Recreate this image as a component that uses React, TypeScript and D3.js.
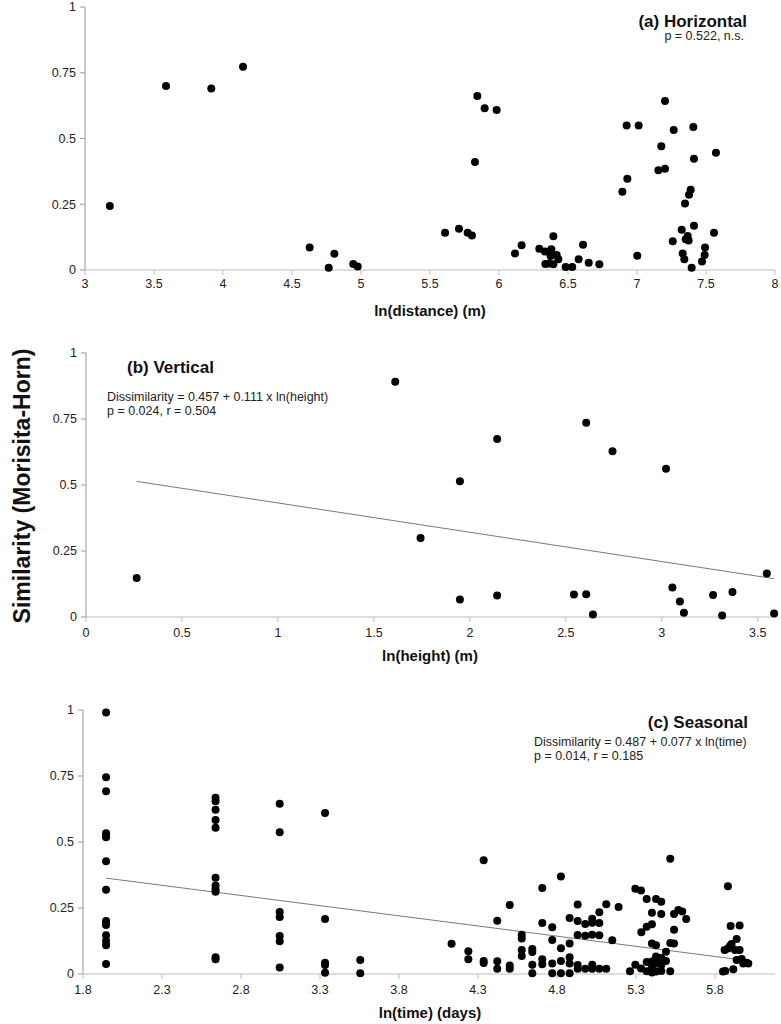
import React from 'react';
import * as d3 from 'd3';

// ---------- DATA ----------
const yTickValues = [0, 0.25, 0.5, 0.75, 1];

// (a) Horizontal: ln(distance) (m) vs similarity
const horizontalX = [3.18, 3.587, 3.915, 4.145, 4.628, 4.766, 4.807, 4.944, 4.976,
  5.609, 5.71, 5.773, 5.804, 5.843, 5.826, 5.896, 5.983, 6.116, 6.164, 6.292, 6.333,
  6.379, 6.394, 6.418, 6.374, 6.43, 6.336, 6.362, 6.394, 6.483, 6.531, 6.577, 6.609,
  6.65, 6.727, 6.894, 6.925, 6.93, 7.012, 7.002, 7.155, 7.176, 7.203, 7.203, 7.259,
  7.266, 7.324, 7.331, 7.343, 7.348, 7.353, 7.367, 7.374, 7.377, 7.389, 7.396, 7.408,
  7.413, 7.413, 7.471, 7.49, 7.493, 7.558, 7.572];
const horizontalY = [0.243, 0.7, 0.69, 0.773, 0.086, 0.009, 0.062, 0.023, 0.013,
  0.142, 0.157, 0.142, 0.131, 0.662, 0.411, 0.615, 0.608, 0.063, 0.094, 0.081, 0.07,
  0.079, 0.128, 0.057, 0.053, 0.041, 0.023, 0.025, 0.022, 0.011, 0.011, 0.041, 0.096,
  0.028, 0.022, 0.298, 0.549, 0.347, 0.549, 0.054, 0.379, 0.471, 0.643, 0.385, 0.109,
  0.532, 0.153, 0.063, 0.041, 0.253, 0.117, 0.129, 0.112, 0.286, 0.305, 0.009, 0.544,
  0.423, 0.168, 0.032, 0.057, 0.086, 0.142, 0.446];
const horizontalXTicks = [3, 3.5, 4, 4.5, 5, 5.5, 6, 6.5, 7, 7.5, 8];

// (b) Vertical: ln(height) (m) vs similarity
const verticalX = [0.264, 1.611, 1.743, 1.948, 1.948, 2.142, 2.142, 2.542, 2.606, 2.606,
  2.641, 2.743, 3.022, 3.055, 3.094, 3.115, 3.267, 3.314, 3.368, 3.547, 3.585];
const verticalY = [0.148, 0.891, 0.299, 0.514, 0.066, 0.674, 0.081, 0.085, 0.736, 0.086,
  0.009, 0.628, 0.562, 0.112, 0.059, 0.016, 0.083, 0.006, 0.095, 0.165, 0.013];
const verticalXTicks = [0, 0.5, 1, 1.5, 2, 2.5, 3, 3.5];
const verticalFit = { intercept: 0.457, slope: 0.111, from: 0.264, to: 3.585 };

// (c) Seasonal: ln(time) (days) vs similarity
const seasonalX = [
  1.946, 1.946, 1.946, 1.946, 1.946, 1.946, 1.946, 1.946, 1.946, 1.946, 1.946, 1.946, 1.946, 1.946, 1.946,
  2.639, 2.639, 2.639, 2.639, 2.639, 2.639, 2.639, 2.639, 2.639, 2.639, 2.639,
  3.045, 3.045, 3.045, 3.045, 3.045, 3.045, 3.045,
  3.332, 3.332, 3.332, 3.332, 3.332,
  3.555, 3.555,
  4.133, 4.239, 4.239, 4.336, 4.336, 4.336, 4.422, 4.422, 4.422, 4.501, 4.501, 4.501,
  4.577, 4.577, 4.577, 4.577, 4.644, 4.644, 4.644, 4.644, 4.707, 4.707, 4.707, 4.707,
  4.77, 4.77, 4.77, 4.77, 4.825, 4.825, 4.825, 4.825, 4.88, 4.88, 4.88, 4.88, 4.88,
  4.931, 4.931, 4.931, 4.931, 4.931, 4.979, 4.979, 4.979, 5.023, 5.023, 5.023, 5.023, 5.023,
  5.068, 5.068, 5.068, 5.068, 5.112, 5.112, 5.15, 5.19,
  5.262, 5.296, 5.296, 5.332, 5.332, 5.334, 5.368, 5.368, 5.368, 5.368,
  5.401, 5.401, 5.401, 5.401, 5.401, 5.401, 5.427, 5.427, 5.427, 5.427, 5.427,
  5.46, 5.46, 5.46, 5.46, 5.46, 5.49, 5.49, 5.517, 5.517, 5.517, 5.541, 5.541, 5.541,
  5.568, 5.593, 5.618,
  5.851, 5.865, 5.882, 5.861, 5.882, 5.895, 5.905, 5.899, 5.916, 5.927, 5.937, 5.937,
  5.956, 5.956, 5.969, 5.979, 6.0, 6.011];
const seasonalY = [
  0.991, 0.745, 0.692, 0.533, 0.525, 0.518, 0.427, 0.319, 0.201, 0.193, 0.186, 0.147, 0.125, 0.109, 0.038,
  0.668, 0.654, 0.622, 0.583, 0.554, 0.365, 0.335, 0.321, 0.312, 0.063, 0.056,
  0.645, 0.537, 0.235, 0.216, 0.144, 0.124, 0.025,
  0.61, 0.208, 0.043, 0.034, 0.005,
  0.053, 0.003,
  0.115, 0.086, 0.056, 0.431, 0.049, 0.042, 0.202, 0.048, 0.02, 0.261, 0.032, 0.02,
  0.149, 0.134, 0.091, 0.068, 0.095, 0.083, 0.035, 0.003, 0.326, 0.193, 0.056, 0.037,
  0.177, 0.129, 0.04, 0.003, 0.369, 0.098, 0.049, 0.003, 0.212, 0.116, 0.063, 0.04, 0.003,
  0.263, 0.201, 0.148, 0.034, 0.02, 0.189, 0.145, 0.02, 0.209, 0.194, 0.149, 0.035, 0.02,
  0.234, 0.193, 0.147, 0.02, 0.264, 0.02, 0.128, 0.254,
  0.01, 0.323, 0.035, 0.316, 0.021, 0.158, 0.284, 0.179, 0.045, 0.01,
  0.232, 0.188, 0.116, 0.047, 0.024, 0.006, 0.284, 0.109, 0.066, 0.04, 0.009,
  0.274, 0.227, 0.061, 0.034, 0.011, 0.084, 0.049, 0.437, 0.117, 0.01, 0.227, 0.168, 0.116,
  0.242, 0.237, 0.208,
  0.009, 0.011, 0.332, 0.091, 0.097, 0.106, 0.114, 0.182, 0.018, 0.091, 0.133, 0.053,
  0.184, 0.091, 0.057, 0.04, 0.043, 0.04];
const seasonalXTicks = [1.8, 2.3, 2.8, 3.3, 3.8, 4.3, 4.8, 5.3, 5.8];
const seasonalFit = { intercept: 0.487, slope: 0.077, from: 1.946, to: 6.011 };

// ---------- DRAWING ----------
const FONT = '"Liberation Sans", Arial, Helvetica, sans-serif';

type PanelProps = {
  xs: number[];
  ys: number[];
  xDomain: [number, number];
  xRange: [number, number];
  yRange: [number, number];
  xTicks: number[];
  xFmt: (v: number) => string;
  xLabel: string;
  xLabelY: number;
  tickLabelOffset: number;
  fit?: { intercept: number; slope: number; from: number; to: number };
  children?: React.ReactNode;
};

function Panel(p: PanelProps) {
  const x = d3.scaleLinear().domain(p.xDomain).range(p.xRange);
  const y = d3.scaleLinear().domain([0, 1]).range(p.yRange);
  const x0 = p.xRange[0];
  const y0 = y(0);
  const yFmt = (v: number) => (v === 0 || v === 1 ? String(v) : String(v));
  const line = d3.line<number>().x((d) => x(d)).y((d) => y(1 - (p.fit!.intercept + p.fit!.slope * d)));
  return (
    <g>
      {/* y axis */}
      <line x1={x0} x2={x0} y1={y(1)} y2={y0} stroke="#9a9a9a" strokeWidth={1} />
      {yTickValues.map((v) => (
        <g key={'y' + v}>
          <line x1={x0 - 5} x2={x0} y1={y(v)} y2={y(v)} stroke="#9a9a9a" />
          <text x={x0 - 9} y={y(v)} dy="0.35em" textAnchor="end" fontSize={12.5} fill="#222" fontFamily={FONT}>
            {yFmt(v)}
          </text>
        </g>
      ))}
      {/* x axis */}
      <line x1={x0} x2={p.xRange[1]} y1={y0} y2={y0} stroke="#bdbdbd" strokeWidth={1} />
      {p.xTicks.map((v) => (
        <g key={'x' + v}>
          <line x1={x(v)} x2={x(v)} y1={y0} y2={y0 + 5} stroke="#bdbdbd" />
          <text x={x(v)} y={y0 + p.tickLabelOffset} textAnchor="middle" fontSize={12.5} fill="#222" fontFamily={FONT}>
            {p.xFmt(v)}
          </text>
        </g>
      ))}
      <text x={430} y={p.xLabelY} textAnchor="middle" fontSize={15} fontWeight="bold" fill="#111" fontFamily={FONT}>
        {p.xLabel}
      </text>
      {p.fit && (
        <path d={line([p.fit.from, p.fit.to]) || ''} fill="none" stroke="#7a7a7a" strokeWidth={1} />
      )}
      {p.xs.map((xv, i) => (
        <circle key={i} cx={x(xv)} cy={y(p.ys[i])} r={4} fill="#000" />
      ))}
      {p.children}
    </g>
  );
}

export default function App() {
  const fmt1 = (v: number) => d3.format('.1f')(v);
  const fmtG = (v: number) => String(v);
  return (
    <svg
      width={781}
      height={1024}
      style={{ position: 'absolute', left: 0, top: 0, background: '#fff' }}
      fontFamily={FONT}
    >
      <rect x={0} y={0} width={781} height={1024} fill="#fff" />
      <Panel
        xs={horizontalX}
        ys={horizontalY}
        xDomain={[3, 8]}
        xRange={[85, 775]}
        yRange={[270, 7]}
        xTicks={horizontalXTicks}
        xFmt={fmtG}
        xLabel="ln(distance) (m)"
        xLabelY={316}
        tickLabelOffset={18}
      >
        <text x={747} y={27} textAnchor="end" fontSize={17} fontWeight="bold" fill="#111">(a) Horizontal</text>
        <text x={744} y={40} textAnchor="end" fontSize={12.5} fill="#222">p = 0.522, n.s.</text>
      </Panel>
      <Panel
        xs={verticalX}
        ys={verticalY}
        xDomain={[0, 3.6]}
        xRange={[86, 777]}
        yRange={[617, 353]}
        xTicks={verticalXTicks}
        xFmt={fmtG}
        xLabel="ln(height) (m)"
        xLabelY={661}
        tickLabelOffset={20}
        fit={verticalFit}
      >
        <text x={127} y={373} fontSize={17} fontWeight="bold" fill="#111">(b) Vertical</text>
        <text x={107} y={401} fontSize={12.5} fill="#222">Dissimilarity = 0.457 + 0.111 x ln(height)</text>
        <text x={107} y={415} fontSize={12.5} fill="#222">p = 0.024, r = 0.504</text>
      </Panel>
      <Panel
        xs={seasonalX}
        ys={seasonalY}
        xDomain={[1.8, 6.18]}
        xRange={[83, 775]}
        yRange={[974, 710]}
        xTicks={seasonalXTicks}
        xFmt={fmt1}
        xLabel="ln(time) (days)"
        xLabelY={1018}
        tickLabelOffset={20}
        fit={seasonalFit}
      >
        <text x={748} y={728} textAnchor="end" fontSize={17} fontWeight="bold" fill="#111">(c) Seasonal</text>
        <text x={534} y={746} fontSize={12.5} fill="#222">Dissimilarity = 0.487 + 0.077 x ln(time)</text>
        <text x={534} y={760} fontSize={12.5} fill="#222">p = 0.014, r = 0.185</text>
      </Panel>
      <text
        transform="translate(30,486) rotate(-90)"
        textAnchor="middle"
        fontSize={23}
        fontWeight="bold"
        fill="#111"
      >
        Similarity (Morisita-Horn)
      </text>
    </svg>
  );
}
